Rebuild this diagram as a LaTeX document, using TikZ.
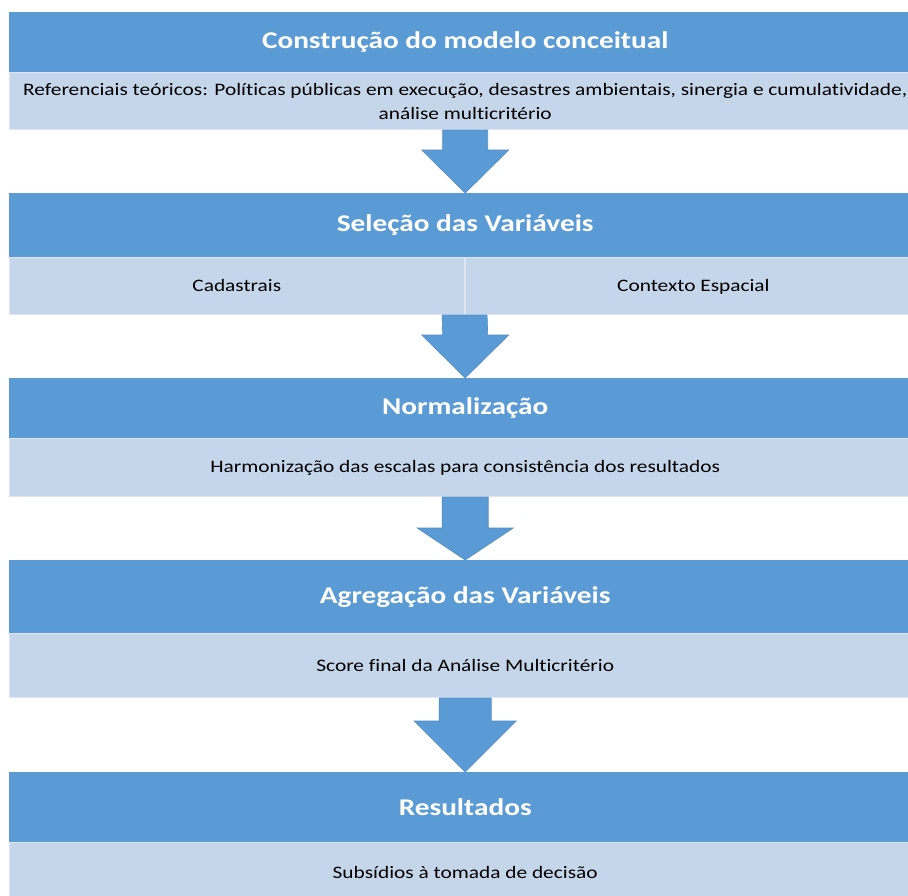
\documentclass[tikz,border=0pt]{standalone}
\usepackage{fontspec}
\setmainfont{Carlito}[Ligatures=NoCommon]
\usetikzlibrary{positioning,calc}
\definecolor{stepblue}{HTML}{5B9BD5}
\definecolor{steplight}{HTML}{C5D5EA}
\definecolor{stepedge}{HTML}{4F8CC6}
\newcommand{\wide}[1]{\scalebox{1.22}[1]{#1}}
% block arrow: from, to, shaft half width, head half width, head length
\newcommand{\flowarrow}[5]{%
	\draw[flow] ($(#1.south)+(-#3,0)$) -- ($(#2.north)+(-#3,-#5)$) -- ($(#2.north)+(-#4,-#5)$) -- (#2.north)
		-- ($(#2.north)+(#4,-#5)$) -- ($(#2.north)+(#3,-#5)$) -- ($(#1.south)+(#3,0)$) -- cycle;}

\begin{document}
\begin{tikzpicture}[x=1pt,y=-1pt,
		header/.style={fill=stepblue,text=white,font=\fontsize{24}{28}\selectfont\bfseries,minimum width=912pt,inner sep=0pt,anchor=north west},
		detail/.style={fill=steplight,draw=white!40!steplight,line width=0.6pt,font=\fontsize{17.5}{24}\selectfont,minimum width=912pt,inner sep=0pt,align=center},
		flow/.style={fill=stepblue,draw=stepedge,line width=0.6pt}]
	\useasboundingbox[fill=white] (0,0) rectangle (908,895);

	\node[header,minimum height=60pt] (h1) at (9,12) {\wide{Construção do modelo conceitual}};
	\node[detail,minimum height=57pt,below=0pt of h1] (s1) {\wide{Referenciais teóricos: Políticas públicas em execução, desastres ambientais, sinergia e cumulatividade,}\\\wide{análise multicritério}};

	\node[header,minimum height=64pt,below=63pt of s1] (h2) {\wide{Seleção das Variáveis}};
	\node[detail,minimum height=57pt,minimum width=455pt,anchor=north west] (s2a) at (h2.south west) {\wide{\strut Cadastrais}};
	\node[detail,minimum height=57pt,minimum width=457pt,right=0pt of s2a] (s2b) {\wide{\strut Contexto Espacial}};

	\node[header,minimum height=60pt,anchor=north west] (h3) at ($(s2a.south west)+(0,63)$) {\wide{Normalização}};
	\node[detail,minimum height=58pt,below=0pt of h3] (s3) {\wide{Harmonização das escalas para consistência dos resultados}};

	\node[header,minimum height=73pt,below=63pt of s3] (h4) {\wide{Agregação das Variáveis}};
	\node[detail,minimum height=64pt,below=0pt of h4] (s4) {\wide{Score final da Análise Multicritério}};

	\node[header,minimum height=70pt,below=74pt of s4] (h5) {\wide{Resultados}};
	\node[detail,minimum height=60pt,below=0pt of h5] (s5) {\wide{Subsídios à tomada de decisão}};

	\coordinate (s2) at (s2a.south east);
	\flowarrow{s1}{h2}{22.5}{43.5}{43}
	\draw[flow] ($(s2)+(-22.5,0)$) -- ($(h3.north)+(-22.5,-43)$) -- ($(h3.north)+(-43.5,-43)$) -- (h3.north)
		-- ($(h3.north)+(43.5,-43)$) -- ($(h3.north)+(22.5,-43)$) -- ($(s2)+(22.5,0)$) -- cycle;
	\flowarrow{s3}{h4}{23}{48}{32}
	\flowarrow{s4}{h5}{26}{51}{51}
\end{tikzpicture}
\end{document}
